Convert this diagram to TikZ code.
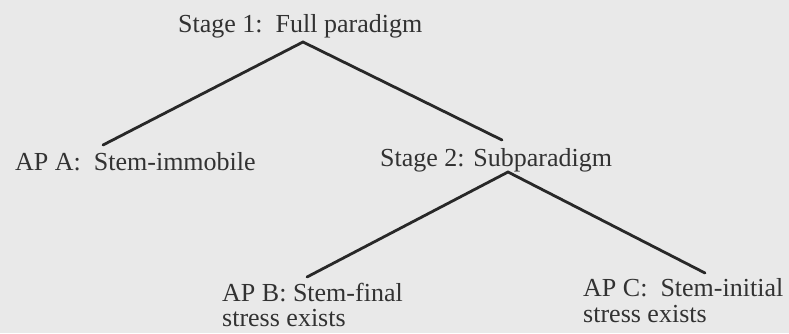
\documentclass[tikz,border=0pt]{standalone}
\usepackage{fontspec}
\setmainfont{Liberation Serif}
\definecolor{bgcol}{RGB}{233,233,233}
\definecolor{inkcol}{RGB}{50,50,50}
\definecolor{linecol}{RGB}{40,40,40}
\tikzset{
  lbl/.style={inner sep=0pt, anchor=base west, text=inkcol,
    font=\fontsize{26}{26}\selectfont},
  branch/.style={draw=linecol, line width=2.8pt, line cap=round, line join=miter}
}
\begin{document}
\begin{tikzpicture}[x=1pt,y=-1pt]
  \fill[bgcol] (0,0) rectangle (789,333);
  \useasboundingbox (0,0) rectangle (789,333);
  % texts
  \node[lbl] (s1)  at (178,32)  {Stage 1:\ \ Full paradigm};
  \node[lbl] (apa) at (15,170)  {AP A:\ \ Stem-immobile};
  \node[lbl] (s2)  at (380,166) {Stage 2: Subparadigm};
  \node[lbl] (apb) at (222,301) {AP B: Stem-final};
  \node[lbl] (apbx) at (222,326) {stress exists};
  \node[lbl] (apc) at (583,296) {AP C:\ \ Stem-initial};
  \node[lbl] (apcx) at (583,322) {stress exists};
  % branch points
  \coordinate (top1) at (303,42);
  \coordinate (endA) at (103,145);
  \coordinate (endS2) at (502,140);
  \coordinate (top2) at (508,172);
  \coordinate (endB) at (307,277);
  \coordinate (endC) at (705,273);
  % connectors
  \draw[branch] (endA) -- (top1) -- (endS2);
  \draw[branch] (endB) -- (top2) -- (endC);
\end{tikzpicture}
\end{document}
